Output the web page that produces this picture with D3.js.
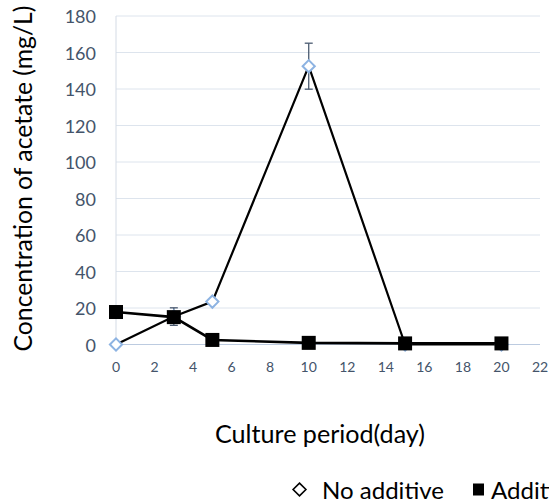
<!DOCTYPE html>
<html>
<head>
<meta charset="utf-8">
<script src="https://cdn.jsdelivr.net/npm/d3@7"></script>
<style>
  body { margin: 0; background: #fff; overflow: hidden; }
  svg { display: block; font-family: Lato, "Open Sans", sans-serif; }
</style>
</head>
<body>
<div id="chart"></div>
<script>
// data
const days = [0, 3, 5, 10, 15, 20];
const noAdditive = [0, 15.3, 23.5, 152.5, 0, 0];
const noAdditiveErr = [0, 4.8, 0, 12.6, 0, 0];
const additive = [17.8, 15, 2.5, 0.9, 0.6, 0.6];
const xTicks = [0, 2, 4, 6, 8, 10, 12, 14, 16, 18, 20, 22];
const yTicks = [0, 20, 40, 60, 80, 100, 120, 140, 160, 180];

const width = 549, height = 504;
const svg = d3.select("#chart").append("svg")
  .attr("width", width).attr("height", height);

const x = d3.scaleLinear().domain([0, 22]).range([116, 540]);
const y = d3.scaleLinear().domain([0, 180]).range([344.5, 16]);

// shrink/grow a text so it spans the width seen in the reference
function fit(sel, target) {
  const n = sel.node();
  const fs = +sel.attr("font-size");
  const w = n.getComputedTextLength();
  sel.attr("font-size", (fs * target / w).toFixed(2));
  return sel;
}

// gridlines
svg.append("g").selectAll("line")
  .data(yTicks.filter(d => d > 0))
  .join("line")
  .attr("x1", x(0)).attr("x2", x(22))
  .attr("y1", d => y(d)).attr("y2", d => y(d))
  .attr("stroke", "#dde4ed").attr("stroke-width", 1);

// axis lines
svg.append("line")
  .attr("x1", x(0)).attr("x2", x(0))
  .attr("y1", y(180)).attr("y2", y(0))
  .attr("stroke", "#d4dbe5");
svg.append("line")
  .attr("x1", x(0)).attr("x2", x(22))
  .attr("y1", y(0)).attr("y2", y(0))
  .attr("stroke", "#bccbe0");

// tick labels
svg.append("g").selectAll("text")
  .data(yTicks)
  .join("text")
  .attr("x", 96).attr("y", d => y(d) + 7)
  .attr("text-anchor", "end")
  .attr("font-size", 18)
  .attr("fill", "#44546a")
  .text(d => d);

svg.append("g").selectAll("text")
  .data(xTicks)
  .join("text")
  .attr("x", d => x(d)).attr("y", 372)
  .attr("text-anchor", "middle")
  .attr("font-size", 14)
  .attr("fill", "#44546a")
  .text(d => d);

// axis titles
const yTitle = svg.append("text")
  .attr("transform", `translate(32,178.5) rotate(-90)`)
  .attr("text-anchor", "middle")
  .attr("font-size", 22)
  .attr("fill", "#000")
  .text("Concentration of acetate (mg/L)");
fit(yTitle, 346);

const xTitle = svg.append("text")
  .attr("x", 320).attr("y", 443)
  .attr("text-anchor", "middle")
  .attr("font-size", 22)
  .attr("fill", "#000")
  .text("Culture period(day)");
fit(xTitle, 210);

const line = d3.line().x(d => x(d[0])).y(d => y(d[1]));
const diamond = d3.symbol().type(d3.symbolDiamond2).size(95);

// no additive series
const naPts = days.map((d, i) => [d, noAdditive[i], noAdditiveErr[i]]);
svg.append("path")
  .datum(naPts)
  .attr("d", line)
  .attr("fill", "none")
  .attr("stroke", "#000")
  .attr("stroke-width", 2.2);

const err = svg.append("g").attr("stroke", "#4a5a70").attr("stroke-width", 1.3);
naPts.filter(d => d[2] > 0).forEach(d => {
  err.append("line")
    .attr("x1", x(d[0])).attr("x2", x(d[0]))
    .attr("y1", y(d[1] + d[2])).attr("y2", y(d[1] - d[2]));
  [d[1] + d[2], d[1] - d[2]].forEach(v => {
    err.append("line")
      .attr("x1", x(d[0]) - 4).attr("x2", x(d[0]) + 4)
      .attr("y1", y(v)).attr("y2", y(v));
  });
});

svg.append("g").selectAll("path")
  .data(naPts)
  .join("path")
  .attr("transform", d => `translate(${x(d[0])},${y(d[1])})`)
  .attr("d", diamond)
  .attr("fill", "#fff")
  .attr("stroke", "#8db3e2")
  .attr("stroke-width", 2);

// additive series
const adPts = days.map((d, i) => [d, additive[i]]);
svg.append("path")
  .datum(adPts)
  .attr("d", line)
  .attr("fill", "none")
  .attr("stroke", "#000")
  .attr("stroke-width", 2.6);

svg.append("g").selectAll("rect")
  .data(adPts)
  .join("rect")
  .attr("x", d => x(d[0]) - 7).attr("y", d => y(d[1]) - 7)
  .attr("width", 14).attr("height", 14)
  .attr("fill", "#000");

// legend
const leg = svg.append("g").attr("transform", "translate(0,489.5)");
leg.append("path")
  .attr("transform", "translate(299.5,0)")
  .attr("d", d3.symbol().type(d3.symbolDiamond2).size(105))
  .attr("fill", "#fff").attr("stroke", "#000").attr("stroke-width", 1.6);
const legText = leg.append("text")
  .attr("x", 322).attr("y", 9.5)
  .attr("font-size", 22).attr("fill", "#000")
  .text("No additive");
fit(legText, 122);
leg.append("rect")
  .attr("x", 473).attr("y", -6).attr("width", 11).attr("height", 12)
  .attr("fill", "#000");
leg.append("text")
  .attr("x", 491).attr("y", 9.5)
  .attr("font-size", legText.attr("font-size")).attr("fill", "#000")
  .text("Additive");
</script>
</body>
</html>
